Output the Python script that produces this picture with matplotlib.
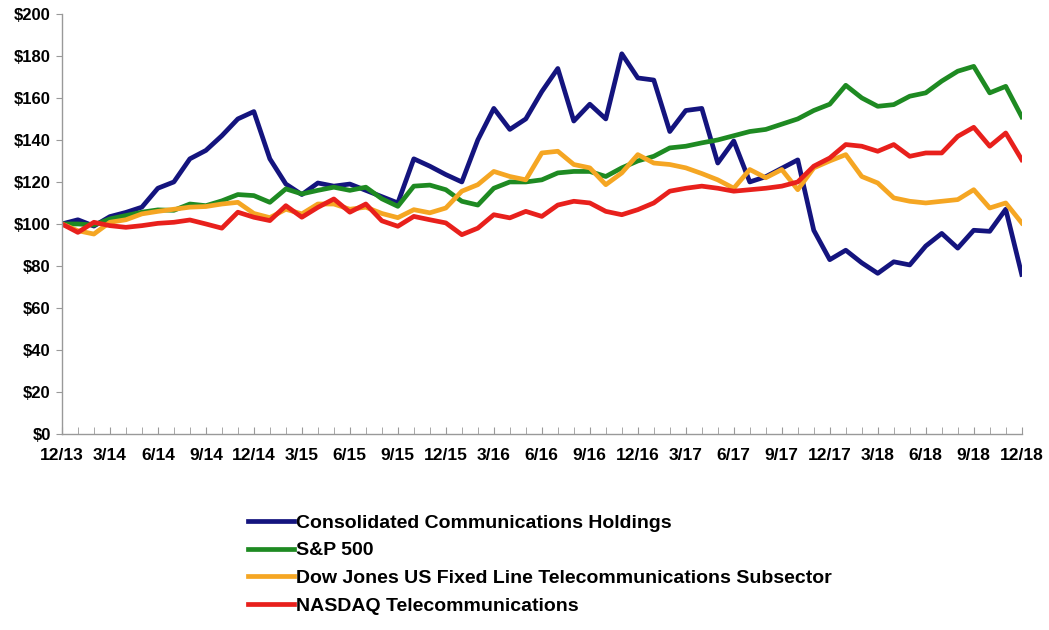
import matplotlib
matplotlib.use('Agg')
import matplotlib.pyplot as plt
from matplotlib.ticker import MultipleLocator, FuncFormatter

plt.rcParams['font.family'] = ['Liberation Sans', 'DejaVu Sans']
plt.rcParams['font.weight'] = 'bold'

# month index 0 = 12/13 ... 60 = 12/18
months = list(range(61))
tick_labels = ['12/13', '3/14', '6/14', '9/14', '12/14', '3/15', '6/15', '9/15',
               '12/15', '3/16', '6/16', '9/16', '12/16', '3/17', '6/17', '9/17',
               '12/17', '3/18', '6/18', '9/18', '12/18']

cnsl = [100, 102, 99, 103.5, 105.5, 108, 117, 120, 131, 135, 142, 150, 153.5,
        131, 119, 114, 119.5, 118, 119, 116, 113, 110, 131, 127.5, 123.5, 120,
        140, 155, 145, 150, 163, 174, 149, 157, 150, 181, 169.5, 168.5, 144,
        154, 155, 129, 139.5, 120, 122.5, 126.5, 130.5, 97, 83, 87.5, 81.5,
        76.5, 82, 80.5, 89.5, 95.5, 88.5, 97, 96.5, 107, 76]

sp500 = [100, 100, 99.5, 102.4, 104, 105.6, 106.7, 106.5, 109.5, 108.7, 111,
         114, 113.5, 110.3, 116.7, 114.3, 116, 117.5, 116, 117.5, 112, 108.4,
         118, 118.5, 116.3, 110.8, 109, 117, 120, 120, 121, 124.3, 125, 125,
         122.6, 126.7, 130, 132.2, 136.2, 137, 138.6, 140, 142, 144, 145, 147.5,
         150, 154, 157, 166, 160, 156, 156.8, 160.8, 162.4, 168, 172.7, 175,
         162.4, 165.5, 151]

dj_fixed = [100, 96.8, 95.2, 100.8, 102, 104.8, 106, 107, 108, 108.3, 109.5,
            110.3, 105, 103, 107, 104.8, 109.5, 109.5, 107, 108, 105, 103,
            106.8, 105.3, 107.6, 115.6, 118.7, 125, 122.6, 121, 133.8, 134.6,
            128.3, 126.7, 118.7, 124.3, 133, 129, 128.3, 126.7, 124, 121, 117,
            125.9, 122, 125.9, 116.3, 126.7, 130, 133, 122.6, 119.5, 112.4,
            110.8, 110, 110.8, 111.6, 116.3, 107.6, 110, 100.5]

nasdaq_tel = [100, 96, 100.8, 99.2, 98.4, 99.2, 100.3, 100.8, 101.9, 100, 98,
              105.6, 103.2, 101.6, 108.7, 103.2, 107.9, 111.9, 105.6, 109.5,
              101.5, 98.9, 103.6, 102, 100.5, 94.9, 98, 104.4, 102.9, 106,
              103.6, 109, 110.8, 110, 106, 104.4, 106.8, 110, 115.6, 117, 118,
              117, 115.6, 116.3, 117, 118, 120, 127.5, 131.4, 137.8, 137, 134.6,
              137.8, 132.2, 133.8, 133.8, 141.7, 146, 137, 143.3, 130.6]

fig = plt.figure(figsize=(10.49, 6.3), dpi=100)
ax = fig.add_axes([0.059, 0.311, 0.915, 0.667])

lw = 3.4
ax.plot(months, cnsl, color='#14147e', lw=lw, solid_joinstyle='round',
        label='Consolidated Communications Holdings')
ax.plot(months, sp500, color='#1e8a22', lw=lw, solid_joinstyle='round',
        label='S&P 500')
ax.plot(months, dj_fixed, color='#f5a623', lw=lw, solid_joinstyle='round',
        label='Dow Jones US Fixed Line Telecommunications Subsector')
ax.plot(months, nasdaq_tel, color='#e8201c', lw=lw, solid_joinstyle='round',
        label='NASDAQ Telecommunications')

ax.set_xlim(0, 60)
ax.set_ylim(0, 200)
ax.set_xticks(range(0, 61, 3))
ax.set_xticklabels(tick_labels)
ax.xaxis.set_minor_locator(MultipleLocator(1))
ax.yaxis.set_major_locator(MultipleLocator(20))
ax.yaxis.set_major_formatter(FuncFormatter(lambda v, p: '$%d' % v))

for s in ['top', 'right']:
    ax.spines[s].set_visible(False)
for s in ['left', 'bottom']:
    ax.spines[s].set_color('#999999')
    ax.spines[s].set_linewidth(1)

ax.tick_params(axis='x', which='both', direction='in', color='#999999',
               labelsize=12.5, pad=10)
ax.tick_params(axis='x', which='major', length=5)
ax.tick_params(axis='x', which='minor', length=5)
ax.tick_params(axis='y', direction='out', length=4, color='#999999',
               labelsize=12, pad=4)
for lab in ax.get_xticklabels() + ax.get_yticklabels():
    lab.set_fontweight('bold')

fig.legend(loc='upper left', bbox_to_anchor=(0.236, 0.184), frameon=False,
           prop={'size': 14, 'weight': 'bold'}, handlelength=2.4,
           handletextpad=0.1, labelspacing=0.52, borderaxespad=0,
           borderpad=0)

fig.savefig('out.png', dpi=100)
